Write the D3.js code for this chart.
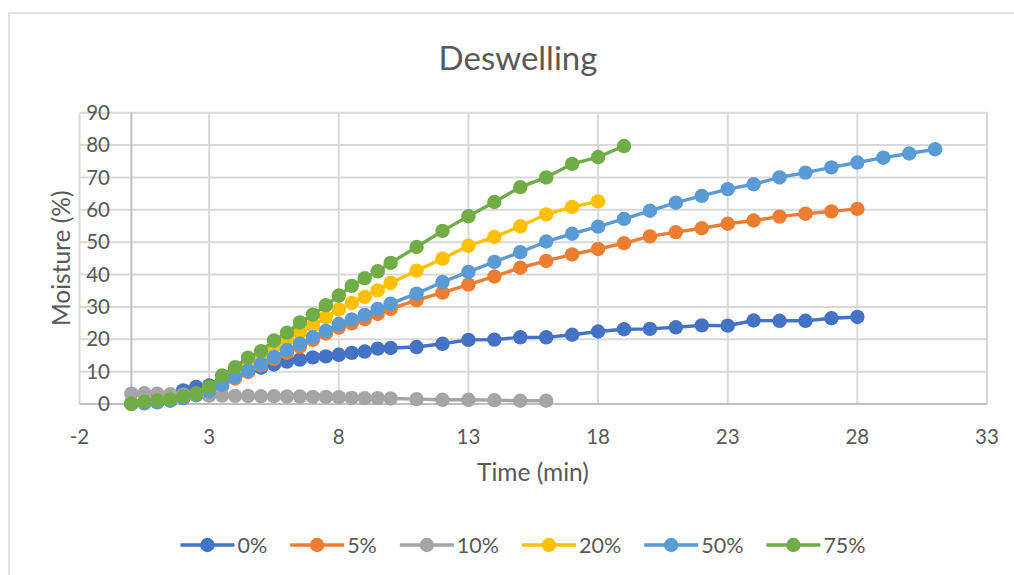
<!DOCTYPE html>
<head>
    <meta charset="utf-8">
    <title>Deswelling</title>
    <script src="https://d3js.org/d3.v7.min.js"></script>
    <style>
        body { margin: 0; background: #fff; }
        svg text { font-family: Lato, "Noto Sans", sans-serif; fill: #595959; }
    </style>
</head>
<body>
<svg width="1014" height="575"></svg>
<script>
    // time points (min) shared by every series, each series uses the first n of them
    var time = [0, 0.5, 1, 1.5, 2, 2.5, 3, 3.5, 4, 4.5, 5, 5.5, 6, 6.5, 7, 7.5, 8, 8.5, 9, 9.5, 10,
        11, 12, 13, 14, 15, 16, 17, 18, 19, 20, 21, 22, 23, 24, 25, 26, 27, 28, 29, 30, 31];

    var labels = ["0%", "5%", "10%", "20%", "50%", "75%"];
    var colors = ["#4472C4", "#ED7D31", "#A5A5A5", "#FFC000", "#5B9BD5", "#70AD47"];

    var m0 = [0.3, 0.6, 1.2, 2.2, 4.2, 5.3, 5.7, 6.8, 8.5, 10.0, 11.2, 12.2, 13.1, 13.7, 14.4, 14.7, 15.2, 15.8, 16.2, 17.1, 17.3,
        17.6, 18.6, 19.8, 19.9, 20.6, 20.6, 21.4, 22.4, 23.1, 23.2, 23.7, 24.3, 24.2, 25.8, 25.7, 25.7, 26.5, 26.9];
    var m5 = [0, 0.3, 0.6, 1.1, 1.8, 2.7, 3.8, 5.6, 7.9, 9.9, 11.9, 13.9, 15.8, 17.7, 19.8, 21.8, 23.6, 24.9, 26.2, 27.8, 29.4,
        32.1, 34.4, 36.9, 39.4, 42.1, 44.2, 46.2, 47.9, 49.7, 51.8, 53.1, 54.3, 55.7, 56.7, 57.9, 58.8, 59.5, 60.3];
    var m10 = [3.2, 3.3, 3.2, 3.0, 2.9, 2.8, 2.6, 2.6, 2.5, 2.5, 2.4, 2.4, 2.3, 2.3, 2.2, 2.2, 2.1, 1.9, 1.8, 1.8, 1.7,
        1.5, 1.3, 1.3, 1.2, 1.0, 1.0];
    var m20 = [0, 0.5, 1.0, 1.5, 2.3, 3.2, 5.0, 7.8, 10.3, 12.8, 15.2, 17.6, 20.0, 22.2, 24.3, 26.8, 29.2, 31.2, 33.1, 35.1, 37.4,
        41.2, 44.9, 48.9, 51.6, 54.9, 58.6, 60.9, 62.6];
    var m50 = [0, 0.2, 0.5, 1.0, 1.8, 2.8, 3.9, 5.9, 8.3, 10.3, 12.4, 14.5, 16.7, 18.6, 20.6, 22.6, 24.7, 26.1, 27.5, 29.4, 31.0,
        34.1, 37.7, 40.8, 43.9, 46.9, 50.2, 52.6, 54.8, 57.2, 59.7, 62.2, 64.3, 66.4, 67.9, 70.0, 71.5, 73.1, 74.6, 76.1, 77.4, 78.7];
    var m75 = [0.1, 0.7, 1.1, 1.5, 2.4, 3.2, 5.3, 8.8, 11.4, 14.3, 16.3, 19.6, 22.0, 25.2, 27.6, 30.5, 33.5, 36.5, 38.9, 41.0, 43.6,
        48.5, 53.5, 58.0, 62.4, 67.0, 70.0, 74.2, 76.3, 79.7];

    var xTicks = [-2, 3, 8, 13, 18, 23, 28, 33];
    var yTicks = [0, 10, 20, 30, 40, 50, 60, 70, 80, 90];

    var series = [m0, m5, m10, m20, m50, m75].map(function (vals, i) {
        return {
            name: labels[i],
            color: colors[i],
            points: vals.map(function (v, j) { return {t: time[j], v: v}; })
        };
    });

    var svg = d3.select("svg");

    var x = d3.scaleLinear().domain([-2, 33]).range([79.5, 987]);
    var y = d3.scaleLinear().domain([0, 90]).range([404, 112.7]);

    // chart frame
    svg.append("rect")
        .attr("x", 9).attr("y", 13)
        .attr("width", 1022).attr("height", 600)
        .attr("fill", "none")
        .attr("stroke", "#d9d9d9")
        .attr("stroke-width", 1.5);

    svg.append("text")
        .attr("x", 518).attr("y", 70)
        .attr("text-anchor", "middle")
        .style("font-size", "33px")
        .text("Deswelling");

    // grid
    var grid = svg.append("g");
    grid.selectAll("line.h")
        .data(yTicks.filter(function (d) { return d !== 0; }))
        .enter().append("line")
        .attr("x1", x(-2)).attr("x2", x(33))
        .attr("y1", function (d) { return y(d); })
        .attr("y2", function (d) { return y(d); })
        .attr("stroke", "#d9d9d9").attr("stroke-width", 2);
    grid.selectAll("line.v")
        .data(xTicks)
        .enter().append("line")
        .attr("x1", function (d) { return x(d); })
        .attr("x2", function (d) { return x(d); })
        .attr("y1", y(0)).attr("y2", y(90))
        .attr("stroke", "#d9d9d9").attr("stroke-width", 2);

    // axes cross at 0
    svg.append("line")
        .attr("x1", x(-2)).attr("x2", x(33))
        .attr("y1", y(0)).attr("y2", y(0))
        .attr("stroke", "#bfbfbf").attr("stroke-width", 2);
    svg.append("line")
        .attr("x1", x(0)).attr("x2", x(0))
        .attr("y1", y(0)).attr("y2", y(90))
        .attr("stroke", "#bfbfbf").attr("stroke-width", 2);

    svg.append("g").selectAll("text")
        .data(yTicks)
        .enter().append("text")
        .attr("x", 110)
        .attr("y", function (d) { return y(d); })
        .attr("dy", "0.35em")
        .attr("text-anchor", "end")
        .style("font-size", "20.5px")
        .text(function (d) { return d; });

    svg.append("g").selectAll("text")
        .data(xTicks)
        .enter().append("text")
        .attr("x", function (d) { return x(d); })
        .attr("y", 444)
        .attr("text-anchor", "middle")
        .style("font-size", "20.5px")
        .text(function (d) { return d; });

    svg.append("text")
        .attr("x", 533).attr("y", 481)
        .attr("text-anchor", "middle")
        .style("font-size", "24.5px")
        .text("Time (min)");

    svg.append("text")
        .attr("transform", "translate(70," + ((y(0) + y(90)) / 2) + ") rotate(-90)")
        .attr("text-anchor", "middle")
        .style("font-size", "24.5px")
        .text("Moisture (%)");

    var line = d3.line()
        .x(function (d) { return x(d.t); })
        .y(function (d) { return y(d.v); });

    var sg = svg.append("g").selectAll("g")
        .data(series)
        .enter().append("g");

    sg.append("path")
        .attr("d", function (d) { return line(d.points); })
        .attr("fill", "none")
        .attr("stroke", function (d) { return d.color; })
        .attr("stroke-width", 3.4);

    sg.selectAll("circle")
        .data(function (d) { return d.points.map(function (p) { return {t: p.t, v: p.v, color: d.color}; }); })
        .enter().append("circle")
        .attr("cx", function (d) { return x(d.t); })
        .attr("cy", function (d) { return y(d.v); })
        .attr("r", 7.2)
        .attr("fill", function (d) { return d.color; });

    // legend, laid out after measuring text
    var legend = svg.append("g");
    var item = legend.selectAll("g")
        .data(series)
        .enter().append("g");
    item.append("line")
        .attr("x1", 0).attr("x2", 54)
        .attr("y1", 0).attr("y2", 0)
        .attr("stroke", function (d) { return d.color; })
        .attr("stroke-width", 3.4);
    item.append("circle")
        .attr("cx", 27).attr("cy", 0).attr("r", 7.2)
        .attr("fill", function (d) { return d.color; });
    item.append("text")
        .attr("x", 57).attr("dy", "0.35em")
        .style("font-size", "21.5px")
        .text(function (d) { return d.name; });

    var pos = 0;
    item.each(function () {
        var w = 57 + d3.select(this).select("text").node().getComputedTextLength();
        d3.select(this).attr("transform", "translate(" + pos + ",0)");
        pos += w + 23;
    });
    var total = pos - 23;
    legend.attr("transform", "translate(" + (523 - total / 2) + ",545)");
</script>
</body>
